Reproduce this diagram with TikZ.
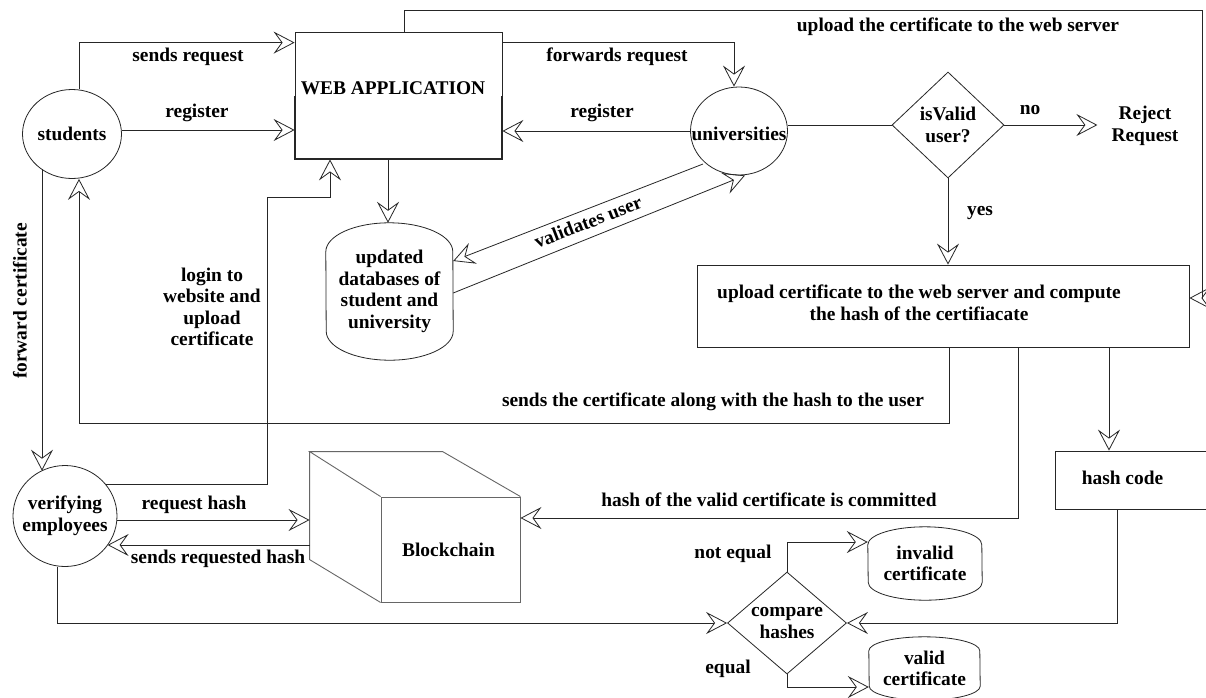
\documentclass[tikz,border=0pt]{standalone}
\usepackage{fontspec}
\setmainfont{Liberation Serif}
\usetikzlibrary{shapes.geometric,arrows.meta,calc}
\newcommand{\mylbf}{\bfseries\fontsize{19.4}{21.5}\selectfont}
\newcommand{\drawdbshape}[3]{\draw[ln] ($(#1.north west)+(0,#3)$) arc[start angle=180,end angle=0,x radius=#2pt,y radius=#3pt] -- ($(#1.south east)+(0,-#3)$) arc[start angle=0,end angle=-180,x radius=#2pt,y radius=#3pt] -- cycle;}
\tikzset{
  ln/.style={draw=black!85, line width=0.8pt},
  arr/.style={ln, -{Stealth[open, length=21pt, width=22pt, inset=8pt, line width=0.8pt]}},
  lbl/.style={font=\mylbf, inner sep=0pt, align=center, text=black},
  ell/.style={ellipse, ln, inner sep=0pt},
  box/.style={rectangle, ln, inner sep=0pt},
  dia/.style={diamond, ln, inner sep=0pt},
  cubeln/.style={draw=black!60, line width=0.9pt},
}
\begin{document}
\begin{tikzpicture}[x=1pt,y=-1pt]
\fill[white] (0,0) rectangle (1206,697);
\useasboundingbox (0,0) rectangle (1206,697);

% nodes
\node[ell, minimum width=99pt, minimum height=89pt, label={[lbl]center:students}] (stu) at (72,134) {};
\node[ell, minimum width=97pt, minimum height=88pt, label={[lbl,yshift=-3pt]center:universities}] (uni) at (739,131) {};
\node[ell, minimum width=104pt, minimum height=101pt, label={[lbl]center:{verifying\\employees}}] (emp) at (65,516) {};
\node[box, minimum width=207pt, minimum height=127pt] (web) at (398.5,95.5) {};
\node[lbl] (webt) at (393,88) {WEB APPLICATION};
\node[dia, minimum width=112pt, minimum height=106pt, label={[lbl]center:{isValid\\user?}}] (isv) at (948,125) {};
\node[lbl] (rej) at (1145,126) {Reject\\Request};
\node[box, minimum width=492pt, minimum height=82pt, label={[lbl,xshift=-24pt,yshift=3pt]center:{upload certificate to the web server and compute\\the hash of the certifiacate}}] (upl) at (943,306) {};
\node[box, minimum width=155pt, minimum height=58pt, label={[lbl,xshift=-10pt,yshift=2pt]center:hash code}] (hash) at (1132.5,480) {};
\node[lbl, minimum width=127pt, minimum height=137pt] (db) at (389.5,291.5) {updated\\databases of\\student and\\university};
\node[lbl, minimum width=114pt, minimum height=73pt] (inv) at (925,563.5) {invalid\\certificate};
\node[lbl, minimum width=111pt, minimum height=63pt] (val) at (924.5,668.5) {valid\\certificate};
\node[dia, minimum width=119pt, minimum height=102pt, label={[lbl]center:{compare\\hashes}}] (cmp) at (787,623) {};
\node[rectangle, cubeln, inner sep=0pt, minimum width=139pt, minimum height=105pt, label={[lbl,xshift=-2pt]center:Blockchain}] (bc) at (450.5,549.5) {};

% shapes
\drawdbshape{db}{63.5}{29}
\drawdbshape{inv}{57}{18}
\drawdbshape{val}{55.5}{14}
\draw[line width=2pt, black!85] (web.west) |- (web.south east) -- (web.east);
\draw[cubeln] (bc.north west) -- ++(-71,-45) coordinate (bk) -- ++(133,0) -- (bc.north east);
\draw[cubeln] (bk) -- ++(0,108) -- (bc.south west);

% coordinates
\coordinate (stuE) at ([yshift=4pt]stu.east);
\coordinate (topR) at (1202,10);
\coordinate (rejW) at ([xshift=-14pt]rej.west);
\coordinate (cS) at (79,423);
\coordinate (cL) at (267,197);

% connectors
\draw[arr] ([xshift=7pt]stu.north) |- ([yshift=-11pt]web.north west);
\draw[arr] (stuE) -- (stuE -| web.west);
\draw[arr] ([xshift=5.5pt]web.north) |- (topR) |- ([yshift=8pt]upl.east);
\draw[arr] ([yshift=-11pt]web.north east) -| ([xshift=-5pt]uni.north);
\draw[arr] (uni.west) -- (uni.west -| web.east);
\draw[ln] (uni.east |- isv.west) -- (isv.west);
\draw[arr] (isv.east) -- (rejW |- isv.east);
\draw[arr] (isv.south) -- (isv.south |- upl.north);
\draw[arr] ([xshift=6pt]upl.south) |- (cS) -- ([xshift=7pt]stu.south);
\draw[arr] ([xshift=166pt]upl.south) -- ([xshift=-23.5pt]hash.north);
\draw[arr] ([xshift=75pt]upl.south) |- ([yshift=31.5pt]bc.east);
\draw[arr] ([xshift=-15.5pt]hash.south) |- (cmp.east);
\draw[arr] (cmp.north) |- ([yshift=21.5pt]inv.west);
\draw[arr] (cmp.south) |- ([yshift=-18.5pt]val.west);
\draw[arr] ([xshift=-8pt]emp.south) |- (cmp.west);
\draw[arr] (emp.37) -| (cL) -| ([xshift=-68.5pt]web.south);
\draw[arr] ([yshift=-4pt]emp.east) -- ([xshift=-71pt,yshift=29.5pt]bc.west);
\draw[arr] ([xshift=-71pt,yshift=4.5pt]bc.west) -- ([xshift=42.6pt,yshift=-29pt]emp.center);
\draw[arr] ([xshift=-30pt,yshift=-35.4pt]stu.center) -- ([xshift=-23pt,yshift=45.3pt]emp.center);
\draw[arr] ([xshift=-36pt,yshift=-33pt]uni.center) -- ([yshift=30.5pt]db.east);
\draw[arr] ([yshift=-1.5pt]db.east) -- ([xshift=6pt]uni.south);
\draw[arr] ([xshift=-10.5pt]web.south) -- ([xshift=-1.5pt]db.north);

% labels
\node[lbl] (l1) at (188,57) {sends request};
\node[lbl] (l2) at (197,113) {register};
\node[lbl] (l3) at (617,57) {forwards request};
\node[lbl] (l4) at (602,113) {register};
\node[lbl] (l5) at (958,27) {upload the certificate to the web server};
\node[lbl] (l6) at (1030,110) {no};
\node[lbl] (l7) at (980,213) {yes};
\node[lbl] (l8) at (212,307) {login to\\website and\\upload\\certificate};
\node[lbl, rotate=90] (l9) at (20,301) {forward certificate};
\node[lbl, rotate=21] (l10) at (588,222) {validates user};
\node[lbl] (l11) at (713,402) {sends the certificate along with the hash to the user};
\node[lbl] (l12) at (769,500) {hash of the valid certificate is committed};
\node[lbl] (l13) at (194,505) {request hash};
\node[lbl] (l14) at (218,559) {sends requested hash};
\node[lbl] (l15) at (733,554) {not equal};
\node[lbl] (l16) at (728,669) {equal};
\end{tikzpicture}
\end{document}
